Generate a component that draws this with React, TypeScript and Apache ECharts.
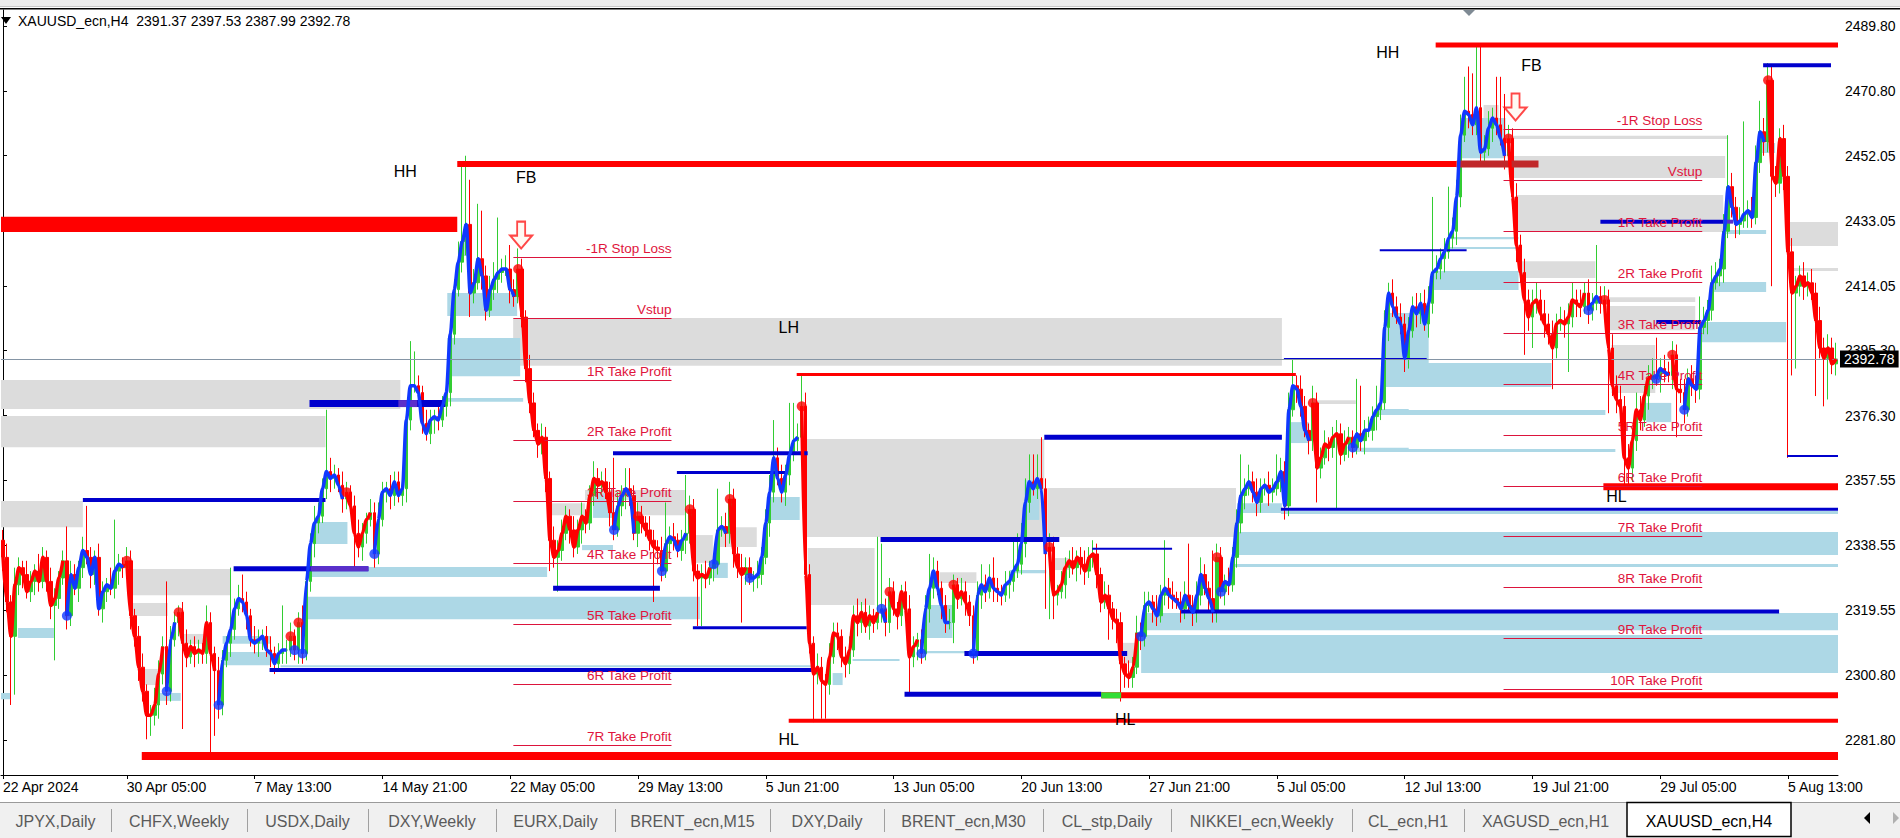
import React, { useEffect, useRef } from "react";
import * as echarts from "echarts";

const FONT = '"Liberation Sans", Arial, Helvetica, sans-serif';
const chartTitle = "XAUUSD_ecn,H4";

const timeLabels = [
  "22 Apr 2024", "30 Apr 05:00", "7 May 13:00", "14 May 21:00", "22 May 05:00",
  "29 May 13:00", "5 Jun 21:00", "13 Jun 05:00", "20 Jun 13:00", "27 Jun 21:00",
  "5 Jul 05:00", "12 Jul 13:00", "19 Jul 21:00", "29 Jul 05:00", "5 Aug 13:00",
];

const priceTicks = [2281.8, 2300.8, 2319.55, 2338.55, 2357.55, 2376.3, 2395.3, 2414.05, 2433.05, 2452.05, 2470.8, 2489.8];
const priceMin = 2271.6;
const priceMax = 2494.46;

const firstOpen = 2340;
const closes = [
  2335,2322,2312,2327,2332,2330,2325,2328,2331,2328,
  2335,2328,2321,2323,2329,2334,2318,2330,2326,2332,
  2337,2335,2330,2335,2320,2325,2327,2326,2331,2333,
  2332,2334,2318,2312,2303,2296,2289,2289,2292,2301,
  2309,2296,2311,2316,2319,2310,2306,2309,2307,2308,
  2307,2316,2307,2302,2292,2305,2310,2314,2320,2323,
  2322,2318,2311,2310,2311,2312,2308,2307,2304,2307,
  2308,2308,2312,2308,2316,2307,2328,2339,2345,2347,
  2355,2360,2358,2359,2356,2352,2354,2350,2342,2338,
  2342,2346,2348,2336,2346,2354,2355,2353,2357,2353,
  2355,2375,2385,2385,2383,2374,2371,2375,2376,2375,
  2379,2383,2400,2413,2421,2427,2432,2412,2415,2422,
  2417,2407,2413,2416,2418,2419,2419,2413,2411,2419,
  2405,2390,2380,2372,2368,2370,2358,2340,2335,2337,
  2342,2347,2343,2338,2343,2347,2345,2353,2358,2356,
  2357,2354,2348,2343,2350,2353,2355,2353,2342,2347,
  2345,2343,2340,2338,2337,2331,2339,2341,2340,2337,
  2340,2342,2349,2331,2329,2330,2329,2332,2333,2343,
  2344,2342,2352,2336,2332,2330,2332,2329,2329,2330,
  2335,2345,2354,2364,2358,2354,2359,2365,2369,2370,
  2379,2330,2310,2301,2303,2299,2298,2306,2313,2312,
  2306,2304,2308,2318,2316,2319,2315,2318,2316,2319,
  2320,2316,2325,2320,2318,2325,2320,2306,2309,2311,
  2307,2320,2326,2331,2326,2321,2316,2316,2327,2323,
  2325,2322,2318,2307,2324,2327,2325,2329,2326,2325,
  2324,2327,2328,2331,2333,2339,2351,2357,2355,2358,
  2355,2336,2338,2324,2325,2327,2332,2334,2332,2335,
  2333,2331,2335,2336,2330,2322,2324,2320,2317,2316,
  2304,2301,2300,2303,2313,2312,2321,2322,2320,2318,
  2324,2326,2324,2323,2322,2320,2324,2321,2319,2324,
  2330,2326,2323,2319,2335,2325,2328,2327,2335,2345,
  2353,2355,2357,2354,2351,2355,2356,2354,2355,2357,
  2360,2350,2378,2385,2384,2379,2372,2369,2380,2361,
  2364,2368,2367,2370,2371,2365,2368,2370,2367,2371,
  2369,2372,2372,2376,2378,2380,2402,2412,2408,2405,
  2403,2393,2401,2408,2406,2409,2403,2409,2418,2419,
  2422,2424,2428,2430,2440,2458,2465,2464,2461,2466,
  2453,2454,2460,2463,2461,2457,2452,2457,2440,2426,
  2418,2410,2405,2409,2410,2406,2403,2400,2396,2403,
  2404,2403,2405,2410,2409,2408,2412,2407,2409,2411,
  2409,2410,2396,2385,2381,2379,2364,2361,2369,2378,
  2375,2382,2387,2388,2387,2390,2389,2388,2394,2384,
  2383,2378,2387,2385,2384,2402,2404,2407,2415,2417,
  2419,2430,2443,2437,2432,2433,2435,2436,2434,2450,
  2459,2456,2474,2446,2444,2457,2446,2424,2412,2414,
  2417,2414,2415,2412,2404,2396,2393,2396,2391.37,2392.78,
];

const wickUp = [
  3,4,2,5,3,2,4,3,2,5, 3,2,4,3,2,3,10,4,3,2, 4,13,3,2,4,3,2,5,15,3, 2,4,3,2,3,4,2,3,5,4,
  3,19,4,3,2,3,4,2,3,3, 2,5,3,2,4,3,2,18,3,4, 7,3,2,4,3,2,3,4,2,3, 13,3,4,2,3,5,4,3,5,4,
  3,18,4,3,2,4,3,2,3,4, 3,2,4,3,5,3,2,4,3,3, 4,5,13,10,3,2,4,3,2,4, 3,5,4,3,6,23,20,13,4,16,
  14,3,4,5,16,3,4,7,3,6, 3,2,4,3,2,4,3,2,4,3, 4,3,2,4,3,4,2,3,5,3, 3,4,3,16,4,3,6,6,3,4,
  3,2,4,3,2,4,12,3,4,2, 3,17,4,3,2,3,4,2,3,12, 3,4,5,3,2,4,3,3,2,4, 3,4,5,11,3,4,3,15,11,4,
  9,4,3,2,4,3,2,4,3,3, 2,3,4,3,5,3,4,3,2,22, 19,3,4,3,2,2,3,4,3,2, 3,4,10,4,3,2,3,4,3,2,
  4,3,2,3,4,6,3,4,6,3, 2,4,3,9,9,6,7,8,8,7, 12,3,4,3,2,4,3,3,4,2, 3,4,3,4,3,2,4,3,2,3,
  3,2,4,3,5,3,4,3,2,4, 3,14,3,4,2,3,4,15,3,4, 5,3,2,14,4,3,2,4,3,4, 12,3,5,3,4,3,2,4,3,8,
  4,3,5,8,3,4,3,2,5,3, 3,4,2,3,4,3,4,3,2,16, 14,3,4,3,7,4,5,3,4,3, 4,3,4,3,4,3,4,5,22,4,
  3,4,15,4,5,6,10,13,12,18, 18,4,5,3,12,14,13,4,3,4, 3,4,3,4,5,3,4,3,4,3, 4,3,4,5,3,4,3,4,3,15,
  3,4,3,4,3,4,3,4,3,5, 4,3,4,5,11,3,4,3,4,3, 3,4,3,4,3,9,4,3,5,4, 3,5,15,4,3,4,27,3,4,5,
  9,4,5,4,3,3,4,3,4,3, 3,4,3,4,3,4,3,4,3,4.75,
];

const wickDown = [
  4,3,20,17,3,4,2,3,4,3, 2,3,4,16,3,2,4,3,2,4, 3,2,4,3,2,4,3,2,3,4, 3,2,4,3,4,3,7,6,3,4,
  3,4,3,2,4,25,3,2,4,3, 3,3,29,19,4,3,2,4,3,2, 3,4,2,3,4,3,2,4,3,2, 3,4,2,3,4,3,2,3,4,3,
  2,3,4,3,2,4,3,2,10,3, 4,3,2,4,3,2,3,4,3,2, 3,4,3,2,4,3,2,3,4,3, 2,3,4,3,2,3,4,7,3,2,
  4,3,2,3,4,3,2,4,3,2, 3,4,3,2,4,3,4,9,3,10, 3,2,4,3,2,4,3,2,3,4, 3,2,4,3,2,3,4,3,2,4,
  3,2,3,16,4,3,2,4,3,2, 3,4,3,3,14,14,3,2,4,3, 2,4,3,4,3,14,3,2,4,3, 3,2,4,3,2,3,4,3,2,3,
  4,4,3,14,3,11,10,3,2,4, 3,4,3,2,4,3,2,4,3,2, 3,4,3,2,4,3,2,11,3,4, 3,2,4,3,2,4,3,2,6,3,
  2,4,3,3,2,4,3,2,4,3, 3,2,4,3,2,3,4,3,2,3, 3,16,19,7,3,2,4,3,2,4, 3,4,2,3,4,3,2,9,3,6,
  11,4,3,3,2,4,3,2,4,3, 2,3,4,3,2,4,3,2,4,3, 3,2,4,3,3,2,4,3,2,3, 3,4,2,3,4,3,2,4,3,2,
  3,4,3,2,4,3,2,4,3,10, 3,2,4,3,21,3,2,4,3,2, 3,4,2,3,4,3,2,4,3,2, 3,4,3,2,4,3,2,4,3,2,
  3,4,2,3,4,3,2,4,3,3, 4,3,2,4,3,2,4,3,3,5, 3,16,4,9,3,2,4,3,12,3, 2,4,14,3,4,3,2,4,3,2,
  3,4,19,3,4,3,8,5,4,3, 3,2,4,3,2,4,3,2,4,14, 3,4,2,3,4,3,2,4,3,2, 3,4,2,3,4,3,2,4,3,2,
  3,4,3,32,4,3,4,60,24,22, 3,4,3,2,22,3,14,12,3,3.38,
];

// bar index where the smoothed trend line changes colour
const trendFlips: [number, string][] = [
  [0, "down"], [16, "up"], [31, "down"], [41, "up"], [44, "down"], [54, "up"], [72, "down"], [73, "up"],
  [74, "down"], [75, "up"], [86, "down"], [93, "up"], [129, "down"], [153, "up"], [159, "down"], [165, "up"],
  [172, "down"], [178, "up"], [182, "down"], [187, "up"], [200, "down"], [220, "up"], [222, "down"], [230, "up"],
  [238, "down"], [243, "up"], [262, "down"], [285, "up"], [304, "down"], [305, "up"], [328, "down"], [338, "up"],
  [377, "down"], [397, "up"], [401, "down"], [414, "up"], [418, "down"], [421, "up"], [442, "down"],
];

// zones: [fromBar, toBar, upperPrice, lowerPrice]
const grayZones = [
  [-0.5, 99.5, 2386.7, 2378.2], [-0.5, 80.75, 2376.2, 2367.1], [-0.5, 20, 2351.4, 2343.8],
  [31.25, 57, 2331.6, 2324.0], [32, 41.25, 2321.7, 2317.9], [34.5, 38.75, 2302.5, 2297.8],
  [44.5, 50.25, 2312.7, 2309.8], [127.75, 320.25, 2404.7, 2390.8], [136.5, 145.75, 2350.8, 2347.3],
  [145.75, 170.75, 2354.6, 2351.7], [158.75, 170.75, 2351.7, 2347.3], [172.5, 177.75, 2341.5, 2333.4],
  [178.75, 188.75, 2343.8, 2338.0], [200.75, 260.75, 2369.5, 2340.9], [201.5, 218.25, 2337.7, 2321.1],
  [234.5, 243.75, 2330.7, 2327.5], [261.5, 308.75, 2355.2, 2340.9], [262.75, 267, 2334.8, 2331.3],
  [280, 284, 2310.1, 2304.2], [328.75, 338.75, 2380.8, 2379.7], [370.75, 374.5, 2466.8, 2463.0],
  [376.25, 432, 2457.8, 2456.9], [377.75, 431.25, 2451.9, 2445.5], [379, 430.75, 2440.6, 2429.8],
  [380.25, 398.75, 2421.3, 2416.4], [401.5, 423.75, 2410.8, 2409.4], [401.5, 423.75, 2408.2, 2401.2],
  [402.75, 413.75, 2396.9, 2382.9], [447, 459.5, 2432.7, 2425.7], [447.5, 459.5, 2419.3, 2418.4],
];

const blueZones = [
  [3.75, 12.75, 2314.4, 2311.5], [-0.5, 2, 2295.5, 2293.7], [38.75, 44.5, 2295.5, 2293.2],
  [55, 67, 2312.1, 2309.8], [55, 67, 2307.4, 2303.6], [69.5, 202.5, 2303.6, 2303.0],
  [77, 136.25, 2332.2, 2329.3], [75.75, 174.5, 2323.5, 2317.0], [77.75, 86.25, 2345.3, 2338.9],
  [110.25, 130.25, 2381.4, 2380.3], [111.25, 128.75, 2412.0, 2405.3], [111.25, 129.5, 2398.9, 2387.8],
  [115, 117, 2428.0, 2422.8], [145, 152.75, 2338.6, 2337.1], [147.75, 152.75, 2353.7, 2346.5],
  [177.75, 181.5, 2333.4, 2329.0], [191.25, 199.5, 2352.6, 2345.9], [207.75, 210.25, 2301.3, 2297.8],
  [212.75, 224.5, 2305.4, 2304.8], [229.5, 241.25, 2307.7, 2307.1], [230.75, 237.75, 2321.1, 2311.5],
  [252, 261.25, 2331.3, 2330.4], [255.75, 259.5, 2357.5, 2345.9], [285, 459.5, 2312.4, 2301.3],
  [285.25, 459.5, 2318.8, 2313.8], [308.25, 459.5, 2333.1, 2332.2], [308.75, 459.5, 2342.4, 2335.7],
  [309, 320.25, 2350.8, 2347.9], [320, 459.5, 2348.5, 2347.6], [322, 327, 2374.4, 2368.3],
  [337.75, 352, 2366.9, 2365.7], [343.75, 352, 2378.2, 2376.5], [345.75, 357, 2406.2, 2391.6],
  [345.75, 387.75, 2391.6, 2384.6], [349.5, 401.25, 2377.9, 2376.5], [349.5, 403.75, 2366.6, 2365.7],
  [357.75, 379.5, 2418.4, 2412.9], [362, 379.5, 2428.3, 2427.7], [362, 379.5, 2425.4, 2424.8],
  [365, 376.25, 2463.0, 2451.3], [411.5, 417.75, 2380.0, 2374.4], [425, 446.5, 2403.6, 2397.7],
  [427.75, 441.5, 2415.2, 2412.3], [431.5, 441.5, 2430.4, 2429.2], [440, 443.75, 2455.7, 2452.8],
];

const redZones = [[-0.5, 113.75, 2434.2, 2429.8]];

// levels: [fromBar, toBar, price]
const redLevels = [
  [113.75, 364, 2449.6], [358.75, 459.5, 2484.3], [34.75, 459.5, 2277.1], [196.75, 459.5, 2287.4],
  [275, 459.5, 2294.8], [400.75, 459.5, 2355.6], [198.75, 323.75, 2388.3],
];
const blueLevels = [
  [20, 80.75, 2351.7], [76.75, 110.75, 2379.8], [57.75, 91.5, 2331.7], [66.75, 202.5, 2302.2],
  [152.75, 201.5, 2365.3], [168.75, 196.5, 2359.7], [137.75, 164.5, 2326.0], [172.75, 201.25, 2314.5],
  [219.75, 264.5, 2340.2], [225.75, 275, 2295.1], [240.75, 281.5, 2307.0], [272.75, 292.75, 2337.5],
  [260.75, 320.25, 2370.0], [295, 444.75, 2319.2], [320, 459.5, 2349.0], [320.75, 356.5, 2392.8],
  [400, 430.75, 2432.8], [344.75, 366.5, 2424.5], [414, 425.25, 2403.6], [440.75, 457.75, 2478.4],
  [446.75, 459.5, 2364.5],
];
const accentLevels = [
  [99, 103.75, 2379.8], [77, 91.5, 2331.7], [430.75, 433.25, 2432.8], [364, 384.5, 2449.6], [275, 280, 2294.8],
];

// trade plans (risk multiples)
const tradeLabels = [
  "-1R Stop Loss", "Vstup", "1R Take Profit", "2R Take Profit", "3R Take Profit", "4R Take Profit",
  "5R Take Profit", "6R Take Profit", "7R Take Profit", "8R Take Profit", "9R Take Profit", "10R Take Profit",
];
const tradeASpan = [127.8, 167.4];
const tradeALevels = [2422.4, 2404.6, 2386.8, 2369.1, 2351.3, 2333.5, 2315.7, 2298.0, 2280.2];
const tradeBSpan = [375.75, 425.5];
const tradeBLevels = [2459.7, 2444.9, 2430.0, 2415.2, 2400.4, 2385.6, 2370.7, 2355.9, 2341.1, 2326.3, 2311.4, 2296.6];

const structureTexts = ["HH", "FB", "LH", "HL", "HL", "HH", "FB", "HL"];
const structurePoints = [
  [100.75, 2447.3], [131, 2445.8], [196.75, 2402.1], [196.75, 2281.8],
  [281, 2287.9], [346.75, 2482.2], [382.75, 2478.4], [404, 2352.6],
];
const arrowPoints = [[129.75, 2428.9], [378.75, 2466.2]];

const tabNames = [
  "JPYX,Daily", "CHFX,Weekly", "USDX,Daily", "DXY,Weekly", "EURX,Daily", "BRENT_ecn,M15", "DXY,Daily",
  "BRENT_ecn,M30", "CL_stp,Daily", "NIKKEI_ecn,Weekly", "CL_ecn,H1", "XAGUSD_ecn,H1", "XAUUSD_ecn,H4",
];

// ---- styles (kept apart from data) ----
const redLevelWidths = [6, 5, 8, 4, 6, 7, 3];
const blueLevelWidths = [4, 7, 5, 4, 4, 3, 5, 3, 5, 5, 5, 2, 5, 4, 3, 2, 4, 2, 4, 4, 2];
const accentWidths = [7, 5, 4, 7, 6];
const accentColors = ["#5b2fc9", "#5b2fc9", "#5b2fc9", "#c0282a", "#33dd33"];
const tabEdges = [0, 111, 247, 368, 496, 615, 770, 884, 1043, 1171, 1352, 1464, 1627, 1791];

function zoneSeries(data: number[][], color: string, z: number) {
  return {
    type: "custom", xAxisIndex: 1, yAxisIndex: 0, z, silent: true, clip: true,
    data, encode: { x: [0, 1], y: [2, 3] },
    renderItem: (params: any, api: any) => {
      const a = api.coord([api.value(0), api.value(2)]);
      const b = api.coord([api.value(1), api.value(3)]);
      return { type: "rect", shape: { x: a[0], y: a[1], width: b[0] - a[0], height: b[1] - a[1] }, style: { fill: color } };
    },
  };
}

function levelSeries(data: number[][], widths: number[], colors: string | string[], z: number) {
  return {
    type: "custom", xAxisIndex: 1, yAxisIndex: 0, z, silent: true, clip: true,
    data, encode: { x: [0, 1], y: 2 },
    renderItem: (params: any, api: any) => {
      const w = widths[params.dataIndex];
      const color = Array.isArray(colors) ? colors[params.dataIndex] : colors;
      const a = api.coord([api.value(0), api.value(2)]);
      const b = api.coord([api.value(1), api.value(2)]);
      return { type: "rect", shape: { x: a[0], y: a[1] - w / 2, width: b[0] - a[0], height: w }, style: { fill: color } };
    },
  };
}

function tradeSeries(span: number[], levels: number[]) {
  return {
    type: "custom", xAxisIndex: 1, yAxisIndex: 0, z: 4, silent: true, clip: true,
    data: levels.map((p, k) => [span[0], span[1], p, k]), encode: { x: [0, 1], y: 2 },
    renderItem: (params: any, api: any) => {
      const a = api.coord([api.value(0), api.value(2)]);
      const b = api.coord([api.value(1), api.value(2)]);
      const y = Math.round(a[1]) + 0.5;
      return {
        type: "group",
        children: [
          { type: "line", shape: { x1: a[0], y1: y, x2: b[0], y2: y }, style: { stroke: "#dc143c", lineWidth: 1 } },
          {
            type: "text", x: b[0], y: y - 2,
            style: {
              text: tradeLabels[api.value(3)], fill: "#e0143c", font: `13.5px ${FONT}`,
              align: "right", verticalAlign: "bottom", textAlign: "right", textVerticalAlign: "bottom",
            },
          },
        ],
      };
    },
  };
}

function buildOption() {
  const n = closes.length;
  const candles = closes.map((c, i) => {
    const o = i === 0 ? firstOpen : closes[i - 1];
    return [o, c, Math.min(o, c) - wickDown[i], Math.max(o, c) + wickUp[i]];
  });
  const trend: string[] = [];
  let dir = "down";
  let f = 0;
  for (let i = 0; i < n; i++) {
    while (f < trendFlips.length && trendFlips[f][0] === i) { dir = trendFlips[f][1]; f++; }
    trend.push(dir);
  }
  const upLine = closes.map((v, i) => (trend[i] === "up" ? v : null));
  const downLine = closes.map((v, i) => (trend[i] === "down" ? v : null));
  const upDots = trendFlips.filter((t) => t[1] === "up" && t[0] > 0).map((t) => [t[0], closes[t[0]]]);
  const downDots = trendFlips.filter((t) => t[1] === "down" && t[0] > 0).map((t) => [t[0], closes[t[0]]]);

  const labelByBar = new Map<number, string>();
  timeLabels.forEach((t, k) => labelByBar.set(k === 0 ? 0 : 31 + 32 * (k - 1), t));
  const showAt = (idx: number) => labelByBar.has(idx);

  const last = candles[n - 1];
  const title = `${chartTitle}  ${last[0].toFixed(2)} ${last[3].toFixed(2)} ${last[2].toFixed(2)} ${last[1].toFixed(2)}`;

  const graphic: any[] = [
    { type: "rect", shape: { x: 0, y: 0, width: 1900, height: 6 }, style: { fill: "#ececec" }, silent: true },
    { type: "rect", shape: { x: 0, y: 6, width: 1900, height: 1 }, style: { fill: "#c8c8c8" }, silent: true },
    { type: "rect", shape: { x: 0, y: 8, width: 1900, height: 1.6 }, style: { fill: "#000" }, silent: true },
    { type: "polygon", shape: { points: [[1, 17], [11, 17], [6, 24]] }, style: { fill: "#000" }, silent: true },
    {
      type: "text", x: 18, y: 21, silent: true,
      style: { text: title, font: `14px ${FONT}`, fill: "#000", verticalAlign: "middle", textVerticalAlign: "middle" },
    },
    { type: "polygon", shape: { points: [[1463, 10], [1475, 10], [1469, 16]] }, style: { fill: "#7f8a94" }, silent: true },
    { type: "rect", shape: { x: 0, y: 802, width: 1900, height: 36 }, style: { fill: "#f0f0f0" }, silent: true },
    { type: "rect", shape: { x: 0, y: 802, width: 1900, height: 1 }, style: { fill: "#9a9a9a" }, silent: true },
  ];
  for (let i = 1; i < tabEdges.length - 2; i++) {
    graphic.push({ type: "rect", shape: { x: tabEdges[i], y: 809, width: 1, height: 23 }, style: { fill: "#a0a0a0" }, silent: true });
  }
  const aL = tabEdges[tabEdges.length - 2];
  const aR = tabEdges[tabEdges.length - 1];
  graphic.push({ type: "rect", shape: { x: aL, y: 802.5, width: aR - aL, height: 34 }, style: { fill: "#fff", stroke: "#000", lineWidth: 1.5 }, silent: true });
  tabNames.forEach((name, i) => {
    const cx = (tabEdges[i] + tabEdges[i + 1]) / 2;
    const active = i === tabNames.length - 1;
    graphic.push({
      type: "text", x: cx, y: 821, silent: true,
      style: {
        text: name, font: `16px ${FONT}`, fill: active ? "#000" : "#5a5a5a",
        align: "center", verticalAlign: "middle", textAlign: "center", textVerticalAlign: "middle",
      },
    });
  });
  graphic.push({ type: "polygon", shape: { points: [[1870, 812], [1870, 824], [1864, 818]] }, style: { fill: "#000" }, silent: true });
  graphic.push({ type: "polygon", shape: { points: [[1893, 812], [1893, 824], [1899, 818]] }, style: { fill: "#b0b0b0" }, silent: true });

  return {
    animation: false,
    backgroundColor: "#ffffff",
    grid: { left: 0, right: 62, top: 10, bottom: 63, containLabel: false },
    xAxis: [
      {
        type: "category", data: closes.map((_, i) => String(i)), boundaryGap: true,
        axisLine: { show: true, lineStyle: { color: "#000", width: 1 } },
        axisTick: { show: true, interval: showAt, alignWithLabel: true, length: 4, lineStyle: { color: "#000" } },
        axisLabel: {
          show: true, interval: showAt, formatter: (_v: string, idx: number) => labelByBar.get(idx) || "",
          align: "left", margin: 5, color: "#000", fontSize: 14, fontFamily: FONT,
        },
        splitLine: { show: false },
      },
      { type: "value", min: -0.5, max: n - 0.5, show: false },
    ],
    yAxis: [
      {
        type: "value", position: "right", min: priceMin, max: priceMax, scale: true,
        axisLine: { show: true, lineStyle: { color: "#000", width: 1 } },
        axisTick: { show: true, inside: false, length: 4, customValues: priceTicks, lineStyle: { color: "#000" } },
        axisLabel: {
          show: true, customValues: priceTicks, formatter: (v: number) => v.toFixed(2),
          margin: 7, color: "#000", fontSize: 14, fontFamily: FONT,
        },
        splitLine: { show: false },
      },
    ],
    graphic,
    series: [
      zoneSeries(grayZones, "#dcdcdc", 1),
      zoneSeries(blueZones, "#add8e6", 1),
      {
        type: "candlestick", xAxisIndex: 0, yAxisIndex: 0, z: 2, data: candles, barWidth: 3,
        itemStyle: {
          color: "#32cd32", color0: "#ff0000", borderColor: "#32cd32", borderColor0: "#ff0000",
          borderColorDoji: "#32cd32", borderWidth: 1,
        },
        markLine: {
          silent: true, symbol: ["none", "none"], animation: false,
          lineStyle: { color: "#8595a5", width: 1, type: "solid" },
          data: [{ yAxis: last[1] }],
          label: {
            show: true, position: "end", distance: 2, formatter: () => last[1].toFixed(2),
            color: "#fff", backgroundColor: "#000", padding: [2, 4, 1, 4], fontSize: 14, fontFamily: FONT,
          },
        },
      },
      zoneSeries(redZones, "#ff0000", 3),
      levelSeries(redLevels, redLevelWidths, "#ff0000", 3),
      levelSeries(blueLevels, blueLevelWidths, "#0000cd", 3),
      levelSeries(accentLevels, accentWidths, accentColors, 3),
      tradeSeries(tradeASpan, tradeALevels),
      tradeSeries(tradeBSpan, tradeBLevels),
      {
        type: "line", xAxisIndex: 0, yAxisIndex: 0, z: 5, data: upLine, showSymbol: false, connectNulls: false,
        smooth: 0.3, smoothMonotone: "x", lineStyle: { color: "#1038ff", width: 3.5 }, silent: true,
      },
      {
        type: "line", xAxisIndex: 0, yAxisIndex: 0, z: 5, data: downLine, showSymbol: false, connectNulls: false,
        smooth: 0.3, smoothMonotone: "x", lineStyle: { color: "#ff0000", width: 3.5 }, silent: true,
      },
      { type: "scatter", xAxisIndex: 0, yAxisIndex: 0, z: 6, data: upDots, symbolSize: 10, itemStyle: { color: "#1038ff" }, silent: true },
      { type: "scatter", xAxisIndex: 0, yAxisIndex: 0, z: 6, data: downDots, symbolSize: 10, itemStyle: { color: "#ff0000" }, silent: true },
      {
        type: "scatter", xAxisIndex: 1, yAxisIndex: 0, z: 7, data: arrowPoints, silent: true,
        symbol: "path://M7,0 L15,0 L15,14 L22,14 L11,27 L0,14 L7,14 Z", symbolSize: [22, 27],
        itemStyle: { color: "#fff8f0", borderColor: "#ff1a1a", borderWidth: 2 },
      },
      {
        type: "custom", xAxisIndex: 1, yAxisIndex: 0, z: 7, silent: true,
        data: structurePoints.map((p, k) => [p[0], p[1], k]), encode: { x: 0, y: 1 },
        renderItem: (params: any, api: any) => {
          const a = api.coord([api.value(0), api.value(1)]);
          return {
            type: "text", x: a[0], y: a[1],
            style: {
              text: structureTexts[api.value(2)], fill: "#000", font: `16px ${FONT}`,
              align: "center", verticalAlign: "middle", textAlign: "center", textVerticalAlign: "middle",
            },
          };
        },
      },
    ],
  };
}

export default function App() {
  const ref = useRef<HTMLDivElement>(null);
  useEffect(() => {
    if (!ref.current) return;
    const chart = echarts.init(ref.current, null, { renderer: "svg" });
    chart.setOption(buildOption() as any);
    return () => chart.dispose();
  }, []);
  return (
    <div
      ref={ref}
      style={{ position: "fixed", left: 0, top: 0, width: 1900, height: 838, background: "#fff" }}
    />
  );
}
